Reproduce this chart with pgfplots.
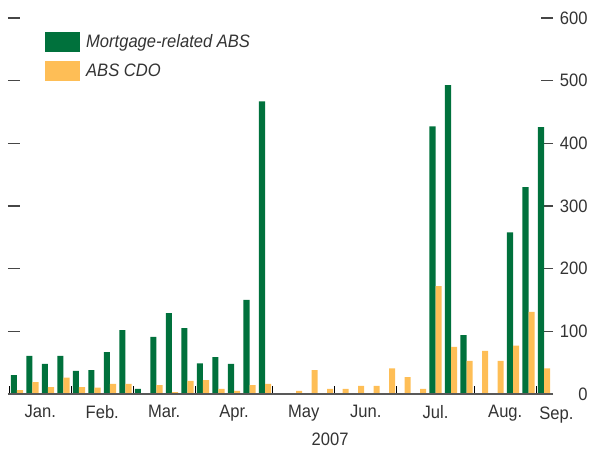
\documentclass[border=0pt]{standalone}
\usepackage{pgfplots}
\pgfplotsset{compat=1.18}
\usepackage{fontspec}
\setmainfont{Liberation Sans}[FakeStretch=0.92]
\definecolor{mgreen}{RGB}{0,113,60}
\definecolor{morange}{RGB}{254,190,86}
\definecolor{txt}{RGB}{51,51,51}
\definecolor{tk}{RGB}{70,70,70}
\pgfplotstableread{
k green orange
1 30 6
2 61 19
3 48 11
4 61 26
5 37 11
6 38 10
7 67 16
8 102 16
9 8 0
10 91 14
11 129 3
12 105 21
13 49 22
14 59 8
15 48 5
16 150 14
17 467 16
18 0 0
19 0 5
20 0 38
21 0 8
22 0 8
23 0 13
24 0 13
25 0 41
26 0 27
27 0 8
28 427 172
29 493 75
30 94 53
31 0 69
32 0 53
33 258 77
34 330 131
35 426 41
}\datatable
\begin{document}
\begin{tikzpicture}
\path[use as bounding box] (-8pt,-55pt) rectangle (582pt,394pt);
\begin{axis}[
  at={(0pt,0pt)}, anchor=south west,
  scale only axis, width=545pt, height=376pt,
  xmin=0.42, xmax=35.58, ymin=0, ymax=600,
  axis line style={draw=none},
  clip=false,
  font=\fontsize{18}{21}\selectfont\color{txt},
  /pgf/number format/assume math mode=true,
  ytick={0,100,...,600},
  ytick pos=both,
  yticklabel pos=right,
  yticklabel style={anchor=east, xshift=38pt, text=txt},
  y tick style={draw=tk, line width=1.3pt},
  major tick length=12pt,
  tick align=inside,
  xtick={2.5,6.5,10.5,15,19.5,23.5,28,32.5},
  xticklabels={Jan.,Feb.,Mar.,Apr.,May,Jun.,Jul.,Aug.},
  x tick style={draw=none},
  xticklabel style={yshift=-8pt, text=txt},
  minor xtick={0.5,4.5,8.5,12.5,17.5,21.5,25.5,30.5,34.5},
  minor x tick style={draw=black, line width=1pt},
  minor tick length=8pt,
  xtick pos=bottom,
  bar width=0.39,
  legend style={at={(37pt,362pt)}, anchor=north west, draw=none, fill=none,
    font=\fontsize{18}{21}\selectfont\itshape\color{txt},
    row sep=9pt, inner sep=0pt},
  legend cell align=left,
  legend image code/.code={\fill[#1] (0pt,-10pt) rectangle (35pt,10pt);},
]
\addplot[ybar, fill=mgreen, draw=none, bar shift=-0.195] table[x=k, y=green] {\datatable};
\addlegendentry{\hspace{4pt}Mortgage-related ABS}
\addplot[ybar, fill=morange, draw=none, bar shift=0.195] table[x=k, y=orange] {\datatable};
\addlegendentry{\hspace{4pt}ABS CDO}
\draw[draw=gray!70!black, line width=1.3pt] (rel axis cs:0,0) -- (rel axis cs:1,0);
\node[anchor=base, text=txt, font=\fontsize{18}{21}\selectfont] at ([yshift=-26pt]axis cs:35.8,0) {Sep.};
\node[text=txt, font=\fontsize{18}{21}\selectfont] at ([yshift=-45pt]axis cs:21.2,0) {2007};
\end{axis}
\end{tikzpicture}
\end{document}
